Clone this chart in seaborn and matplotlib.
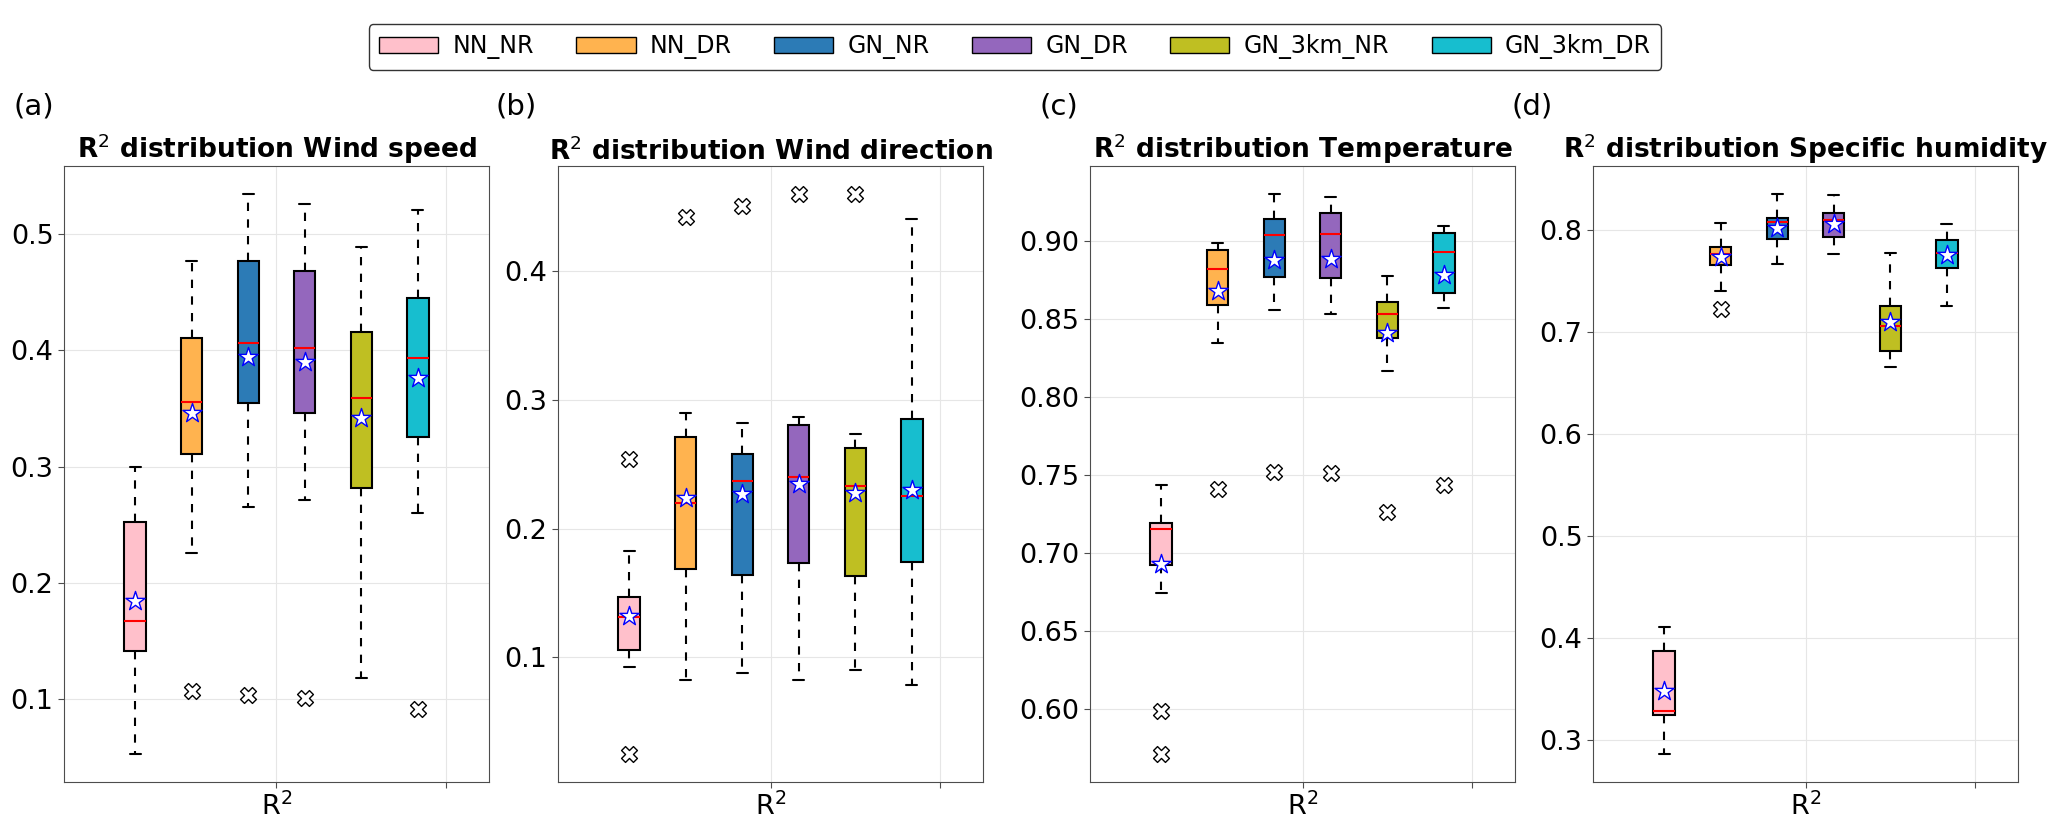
import numpy as np
import pandas as pd
import matplotlib.pyplot as plt
import seaborn as sns
from matplotlib.patches import Patch

# ------------------------------------------------------------
# R2 distributions per model
# (one row per variable, one value per model)
# ------------------------------------------------------------
models = ["NN_NR", "NN_DR", "GN_NR", "GN_DR", "GN_3km_NR", "GN_3km_DR"]
box_colors = ["#FFC0CB", "#FFB34F", "#2C7BB6", "#9467BD", "#BFBF22", "#17BECF"]

panel_tags = ["(a)", "(b)", "(c)", "(d)"]
variables = ["Wind speed", "Wind direction", "Temperature", "Specific humidity"]

whisker_low = [
    [0.053, 0.226, 0.265, 0.271, 0.118, 0.260],
    [0.0925, 0.0823, 0.0875, 0.0823, 0.0901, 0.0787],
    [0.6743, 0.8349, 0.8556, 0.853, 0.8166, 0.8569],
    [0.2863, 0.7398, 0.7664, 0.7762, 0.6656, 0.7254],
]
q1 = [
    [0.1415, 0.311, 0.355, 0.3465, 0.2814, 0.3256],
    [0.1052, 0.1688, 0.1639, 0.1731, 0.1631, 0.1740],
    [0.6925, 0.8588, 0.8773, 0.8764, 0.8379, 0.8668],
    [0.3249, 0.7653, 0.7905, 0.7933, 0.6813, 0.7625],
]
median = [
    [0.1676, 0.3557, 0.4064, 0.4017, 0.3588, 0.3935],
    [0.1314, 0.2200, 0.2371, 0.2398, 0.2329, 0.2254],
    [0.7158, 0.8824, 0.9039, 0.9048, 0.853, 0.8929],
    [0.3285, 0.7758, 0.8074, 0.8098, 0.7058, 0.7776],
]
q3 = [
    [0.2528, 0.4107, 0.477, 0.4684, 0.4159, 0.4453],
    [0.1466, 0.2711, 0.258, 0.2809, 0.263, 0.2856],
    [0.7192, 0.894, 0.9144, 0.9183, 0.8611, 0.9053],
    [0.3876, 0.7835, 0.8116, 0.8168, 0.7251, 0.7895],
]
whisker_high = [
    [0.300, 0.477, 0.5344, 0.5258, 0.489, 0.5209],
    [0.1822, 0.2901, 0.2823, 0.2865, 0.2736, 0.441],
    [0.744, 0.899, 0.9302, 0.9282, 0.8778, 0.9094],
    [0.4105, 0.8067, 0.835, 0.8336, 0.7769, 0.806],
]
mean = [
    [0.1847, 0.3465, 0.394, 0.3904, 0.3419, 0.3766],
    [0.1318, 0.2241, 0.2266, 0.2347, 0.2274, 0.2298],
    [0.6931, 0.8679, 0.8876, 0.8885, 0.8409, 0.878],
    [0.3477, 0.773, 0.8021, 0.8056, 0.71, 0.7755],
]
fliers = [
    [[], [0.1075], [0.1037], [0.1011], [], [0.0917]],
    [[0.2544, 0.0247], [0.4424], [0.4505], [0.4602], [0.4602], []],
    [[0.599, 0.5714], [0.7412], [0.7524], [0.7517], [0.7267], [0.7438]],
    [[], [0.7226], [], [], [], []],
]

# box positions around the single "R2" tick
positions = 1 + (np.arange(len(models)) - 2.5) / 3

# -----------------------------
# Style
# -----------------------------
sns.set_style("whitegrid", {
    "axes.edgecolor": "0.3",
    "grid.color": "0.9",
    "xtick.bottom": True,
    "ytick.left": True,
    "xtick.color": "0.3",
    "ytick.color": "0.3",
    "text.color": "black",
    "axes.labelcolor": "black",
})
plt.rcParams["font.family"] = ["DejaVu Sans"]

W, H = 2067, 821
fig = plt.figure(figsize=(W / 100, H / 100), dpi=100)

ax_left = [64, 558, 1090, 1593]
tag_x = [14, 496, 1040, 1512]
ax_top, ax_bottom, ax_width = 166, 782, 425

for k, var in enumerate(variables):
    ax = fig.add_axes([ax_left[k] / W, 1 - ax_bottom / H,
                       ax_width / W, (ax_bottom - ax_top) / H])

    stats = []
    for j in range(len(models)):
        stats.append({
            "whislo": whisker_low[k][j], "q1": q1[k][j], "med": median[k][j],
            "q3": q3[k][j], "whishi": whisker_high[k][j], "fliers": [],
        })

    bp = ax.bxp(
        stats, positions=positions, widths=0.126, patch_artist=True,
        showfliers=False, manage_ticks=False,
        boxprops=dict(edgecolor="black", linewidth=1.5),
        whiskerprops=dict(color="black", linestyle=(0, (4, 4)), linewidth=1.5),
        capprops=dict(color="black", linewidth=1.5),
        medianprops=dict(color="red", linewidth=1.5),
    )
    for patch, c in zip(bp["boxes"], box_colors):
        patch.set_facecolor(c)

    # outliers and means drawn with seaborn
    flier_df = pd.DataFrame(
        [(positions[j], v) for j in range(len(models)) for v in fliers[k][j]],
        columns=["pos", "value"],
    )
    mean_df = pd.DataFrame({"pos": positions, "value": mean[k]})

    sns.scatterplot(data=flier_df, x="pos", y="value", marker="X", s=130,
                    color="white", edgecolor="black", linewidth=1,
                    ax=ax, zorder=3, legend=False)
    sns.scatterplot(data=mean_df, x="pos", y="value", marker="*", s=210,
                    color="white", edgecolor="blue", linewidth=1,
                    ax=ax, zorder=4, legend=False)

    ax.set_xlim(1 - 1.253, 1 + 1.253)
    ax.set_xticks([1, 2])
    ax.set_xticklabels(["R$^2$", ""])
    ax.set_xlabel("")
    ax.set_ylabel("")
    ax.tick_params(axis="both", labelsize=19.5, labelcolor="black", length=4)
    ax.set_title(f"R$^2$ distribution {var}", fontsize=19, color="black",
                 fontweight="bold", pad=4)

    fig.text(tag_x[k] / W, 1 - 106 / H, panel_tags[k], fontsize=21,
             ha="left", va="center", color="black")

handles = [Patch(facecolor=c, edgecolor="black", label=m)
           for m, c in zip(models, box_colors)]
leg = fig.legend(handles=handles, loc="upper center",
                 bbox_to_anchor=(1015 / W, 1 - 12 / H), ncol=6, fontsize=17,
                 frameon=True, edgecolor="0.2", framealpha=1,
                 handlelength=2.5, handletextpad=0.6, columnspacing=1.8,
                 borderpad=0.45)
for t in leg.get_texts():
    t.set_color("black")

plt.savefig("out.png", dpi=100)
